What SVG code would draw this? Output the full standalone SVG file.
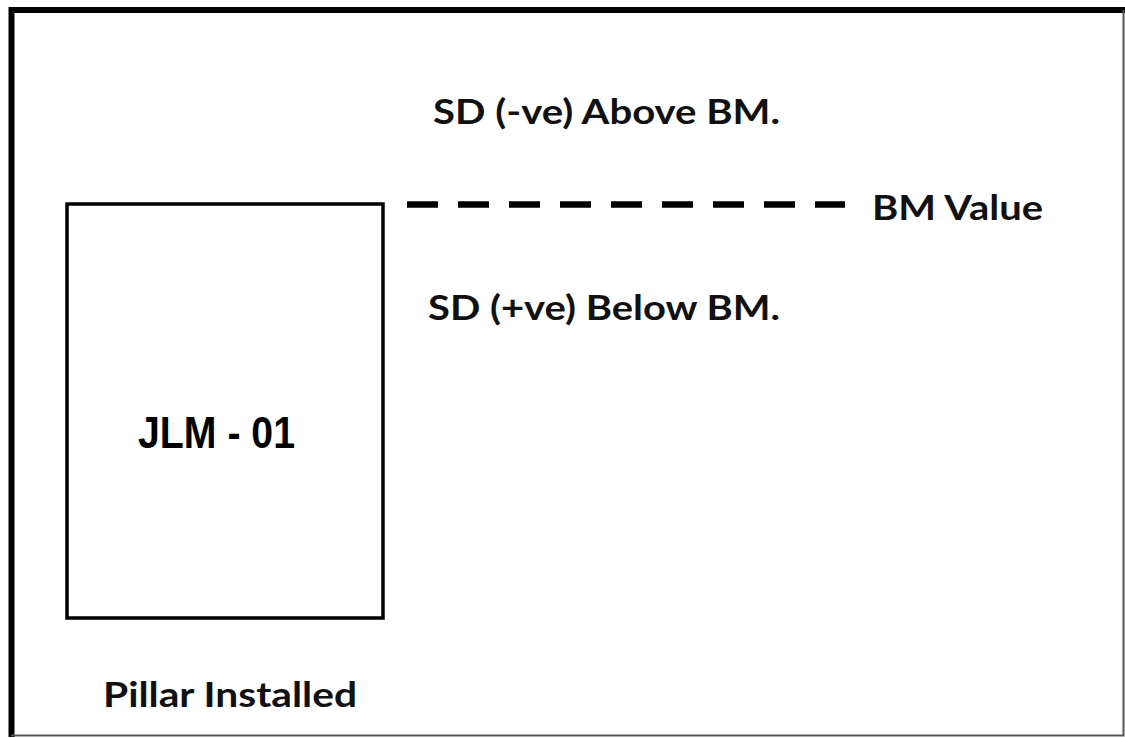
<svg xmlns="http://www.w3.org/2000/svg" width="1125" height="738" viewBox="0 0 1125 738">
<style>
.lbl{font-family:Lato,"Open Sans","Liberation Sans",sans-serif;font-weight:bold;font-size:34px;fill:#111}
.box{fill:#fff;stroke:#000;stroke-width:3.5}
</style>
<rect x="0" y="0" width="1125" height="738" fill="#fff"/>
<g id="frame">
<path d="M11.5 737 V10 H1125" fill="none" stroke="#000" stroke-width="6"/>
<path d="M11 735.5 H1123.5 V10" fill="none" stroke="#555" stroke-width="2"/>
</g>
<g id="pillar">
<rect class="box" x="67" y="204" width="316" height="414"/>
<text x="216.5" y="448" text-anchor="middle" font-family="'Liberation Sans',Arial,sans-serif" font-weight="bold" font-size="45" textLength="157" lengthAdjust="spacingAndGlyphs" fill="#000">JLM - 01</text>
</g>
<g id="connectors">
<line x1="407" y1="204.5" x2="845" y2="204.5" stroke="#000" stroke-width="6.5" stroke-dasharray="31 20"/>
</g>
<g id="labels">
<text class="lbl" x="433" y="124" textLength="347" lengthAdjust="spacingAndGlyphs">SD (-ve) Above BM.</text>
<text class="lbl" x="872" y="220" textLength="171" lengthAdjust="spacingAndGlyphs">BM Value</text>
<text class="lbl" x="428" y="320" textLength="352" lengthAdjust="spacingAndGlyphs">SD (+ve) Below BM.</text>
<text class="lbl" x="103" y="707" textLength="254" lengthAdjust="spacingAndGlyphs">Pillar Installed</text>
</g>
</svg>
